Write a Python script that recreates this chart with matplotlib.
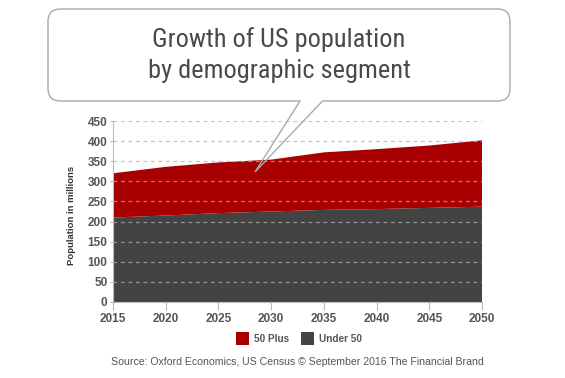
import matplotlib
matplotlib.use("Agg")
import matplotlib.pyplot as plt
from matplotlib.patches import FancyBboxPatch, Rectangle
from matplotlib.lines import Line2D

years = [2015, 2020, 2025, 2030, 2035, 2040, 2045, 2050]
under_50 = [210, 215, 221, 225, 229, 231, 234, 237]
plus_50 = [110, 121, 126, 129, 143, 149, 155, 165]
series_names = ["50 Plus", "Under 50"]
y_ticks = [0, 50, 100, 150, 200, 250, 300, 350, 400, 450]
title_lines = ["Growth of US population", "by demographic segment"]
y_label = "Population in millions"
source_text = "Source: Oxford Economics, US Census \u00a9 September 2016 The Financial Brand"

RED = "#a80000"
DARK = "#434343"
TXT = "#555555"
TITLE_FONT = ["Roboto Condensed", "Liberation Sans", "DejaVu Sans"]

W, H = 565, 378
fig = plt.figure(figsize=(W / 100, H / 100), dpi=100)
fig.patch.set_facecolor("white")

ax = fig.add_axes([113 / W, 1 - 302 / H, (482 - 113) / W, (302 - 121) / H])
ax.stackplot(years, under_50, plus_50, colors=[DARK, RED], linewidth=0, zorder=1)
ax.set_xlim(2015, 2050)
ax.set_ylim(0, 450)
ax.set_yticks(y_ticks)
ax.set_xticks(years)
ax.yaxis.grid(True, linestyle=(0, (3, 3)), color="#b0b0b0", linewidth=0.9, alpha=0.75, zorder=2)
ax.set_axisbelow(False)
for s in ["top", "right"]:
    ax.spines[s].set_visible(False)
ax.spines["left"].set_color("#bbbbbb")
ax.spines["bottom"].set_color("#bbbbbb")
ax.spines["left"].set_linewidth(0.8)
ax.spines["bottom"].set_linewidth(0.8)
ax.tick_params(axis="x", length=6, color="#bbbbbb", width=0.8, pad=2,
               labelsize=8.5, labelcolor=TXT)
ax.tick_params(axis="y", length=2, color="#bbbbbb", width=0.8, pad=2,
               labelsize=8.5, labelcolor=TXT)
for lab in ax.get_xticklabels() + ax.get_yticklabels():
    lab.set_fontfamily("Liberation Sans")
    lab.set_fontweight("bold")

fig.text(71 / W, 1 - 215 / H, y_label, rotation=90, ha="center", va="center",
         fontsize=6.8, fontweight="bold", color="#333333", family="Liberation Sans")

# Legend
for i, (name, col) in enumerate(zip(series_names, [RED, DARK])):
    x0 = [236, 301][i]
    fig.patches.append(Rectangle((x0 / W, 1 - 345 / H), 13 / W, 13 / H,
                                 transform=fig.transFigure, facecolor=col,
                                 edgecolor="none"))
    fig.text((x0 + 18) / W, 1 - 339 / H, name, ha="left", va="center",
             fontsize=7.2, fontweight="bold", color=TXT, family="Liberation Sans")

fig.text(297 / W, 1 - 362 / H, source_text, ha="center", va="center",
         fontsize=7.6, color=TXT, family="Liberation Sans")

# Speech bubble
bx0, by0, bx1, by1 = 48, 9, 510, 101
bubble = FancyBboxPatch((bx0 / W, 1 - by1 / H), (bx1 - bx0) / W, (by1 - by0) / H,
                        boxstyle="round,pad=0,rounding_size=0.022",
                        transform=fig.transFigure, facecolor="white",
                        edgecolor="#aaaaaa", linewidth=1.0, zorder=5,
                        mutation_aspect=W / H)
fig.patches.append(bubble)
fig.lines.append(Line2D([300.5 / W, 322 / W], [1 - by1 / H, 1 - by1 / H],
                        transform=fig.transFigure, color="white", linewidth=1.6, zorder=6))
fig.lines.append(Line2D([300 / W, 255 / W, 322.5 / W],
                        [1 - by1 / H, 1 - 172 / H, 1 - by1 / H],
                        transform=fig.transFigure, color="#aaaaaa", linewidth=1.0,
                        zorder=7, solid_joinstyle="miter"))

fig.text(279 / W, 1 - 40 / H, title_lines[0], ha="center", va="center",
         fontsize=19, color="#4a4a4a", family=TITLE_FONT, zorder=8)
fig.text(279 / W, 1 - 71 / H, title_lines[1], ha="center", va="center",
         fontsize=19, color="#4a4a4a", family=TITLE_FONT, zorder=8)

fig.savefig("out.png", dpi=100)
